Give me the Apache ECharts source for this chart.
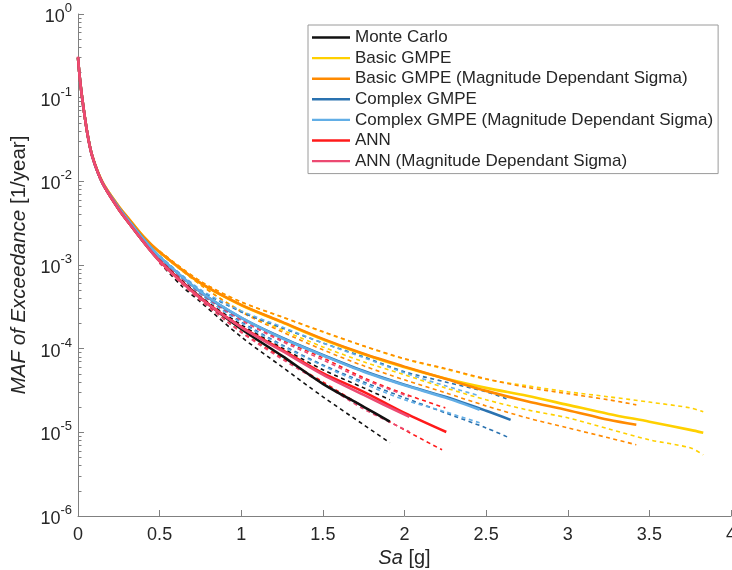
<!DOCTYPE html>
<html>
<head>
<meta charset="utf-8">
<script src="https://cdn.jsdelivr.net/npm/echarts@6/dist/echarts.min.js"></script>
<style>
  html, body { margin: 0; padding: 0; background: #fff; }
  #chart { width: 732px; height: 570px; }
</style>
</head>
<body>
<div id="chart"></div>
<script>
// curve data: [Sa (g), MAF of exceedance (1/year)]
const mcMean = [[0,0.30],[0.01,0.18],[0.027,0.094],[0.057,0.0376],[0.088,0.0197],[0.15,0.0095],[0.25,0.0046],[0.3,0.0034],[0.4,0.0019],[0.5,0.00112],[0.75,4.05e-4],[1.0,1.72e-4],[1.25,8.2e-5],[1.5,3.8e-5],[1.75,2.02e-5],[1.91,1.34e-5]]
const mcHigh = [[0.5,0.00114],[0.75,4.2e-4],[1.0,1.93e-4],[1.25,1.02e-4],[1.5,5.6e-5],[1.75,3.4e-5],[1.91,2.45e-5]]
const mcLow = [[0.5,0.00106],[0.64,5.5e-4],[0.75,3.62e-4],[1.0,1.38e-4],[1.25,6.06e-5],[1.5,2.66e-5],[1.75,1.23e-5],[1.91,7.5e-6]]

const basicMean = [[0,0.30],[0.01,0.18],[0.027,0.095],[0.057,0.038],[0.088,0.0200],[0.15,0.0098],[0.25,0.0050],[0.3,0.0038],[0.4,0.0022],[0.5,0.00142],[0.75,6.05e-4],[1.0,3.3e-4],[1.25,2.06e-4],[1.5,1.29e-4],[1.75,8.6e-5],[2.0,6.0e-5],[2.25,4.4e-5],[2.5,3.4e-5],[2.75,2.73e-5],[3.0,2.13e-5],[3.25,1.66e-5],[3.5,1.34e-5],[3.75,1.07e-5],[3.83,9.9e-6]]
const basicHigh = [[0.5,0.00146],[0.75,6.4e-4],[1.0,3.6e-4],[1.25,2.38e-4],[1.5,1.58e-4],[1.75,1.07e-4],[2.0,7.5e-5],[2.25,5.7e-5],[2.5,4.3e-5],[2.75,3.6e-5],[3.0,3.05e-5],[3.25,2.66e-5],[3.5,2.3e-5],[3.75,1.96e-5],[3.83,1.76e-5]]
const basicLow = [[0.5,0.0014],[0.75,5.8e-4],[1.0,2.83e-4],[1.25,1.68e-4],[1.5,1.05e-4],[1.75,6.96e-5],[2.0,4.87e-5],[2.25,3.4e-5],[2.5,2.45e-5],[2.75,1.86e-5],[3.0,1.49e-5],[3.25,1.1e-5],[3.5,8.14e-6],[3.75,6.53e-6],[3.83,5.39e-6]]

const basicMdsMean = [[0,0.30],[0.01,0.18],[0.027,0.095],[0.057,0.038],[0.088,0.0200],[0.15,0.0098],[0.25,0.0050],[0.3,0.0038],[0.4,0.0022],[0.5,0.00143],[0.75,6.1e-4],[1.0,3.34e-4],[1.25,2.09e-4],[1.5,1.31e-4],[1.75,8.7e-5],[2.0,6.1e-5],[2.25,4.36e-5],[2.5,3.13e-5],[2.75,2.35e-5],[3.0,1.84e-5],[3.25,1.41e-5],[3.42,1.23e-5]]
const basicMdsHigh = [[0.5,0.00146],[0.75,6.4e-4],[1.0,3.62e-4],[1.25,2.4e-4],[1.5,1.6e-4],[1.75,1.08e-4],[2.0,7.6e-5],[2.25,5.8e-5],[2.5,4.36e-5],[2.75,3.45e-5],[3.0,2.9e-5],[3.25,2.45e-5],[3.42,2.13e-5]]
const basicMdsLow = [[0.5,0.0014],[0.75,5.8e-4],[1.0,2.75e-4],[1.25,1.59e-4],[1.5,9.7e-5],[1.75,6.23e-5],[2.0,4.24e-5],[2.25,2.97e-5],[2.5,2.07e-5],[2.75,1.49e-5],[3.0,1.13e-5],[3.25,8.6e-6],[3.42,7.1e-6]]

const complexMean = [[0,0.30],[0.01,0.18],[0.027,0.094],[0.057,0.0378],[0.088,0.0198],[0.15,0.0096],[0.25,0.0048],[0.3,0.0036],[0.4,0.00205],[0.5,0.00125],[0.75,4.77e-4],[1.0,2.33e-4],[1.25,1.35e-4],[1.5,8.4e-5],[1.75,5.4e-5],[2.0,3.7e-5],[2.25,2.66e-5],[2.5,1.81e-5],[2.65,1.41e-5]]
const complexHigh = [[0.5,0.00128],[0.75,5.0e-4],[1.0,2.75e-4],[1.25,1.77e-4],[1.5,1.17e-4],[1.75,8.0e-5],[2.0,5.3e-5],[2.25,4.0e-5],[2.5,3.05e-5],[2.64,2.45e-5]]
const complexLow = [[0.5,0.00122],[0.75,4.5e-4],[1.0,2.09e-4],[1.25,1.11e-4],[1.5,6.4e-5],[1.75,4.0e-5],[2.0,2.59e-5],[2.25,1.71e-5],[2.5,1.13e-5],[2.63,8.8e-6]]

const complexMdsMean = [[0,0.30],[0.01,0.18],[0.027,0.094],[0.057,0.0378],[0.088,0.0198],[0.15,0.0096],[0.25,0.0048],[0.3,0.0036],[0.4,0.00205],[0.5,0.00126],[0.75,4.8e-4],[1.0,2.35e-4],[1.25,1.33e-4],[1.5,8.3e-5],[1.75,5.3e-5],[2.0,3.65e-5],[2.25,2.6e-5],[2.46,1.86e-5]]
const complexMdsHigh = [[0.5,0.00129],[0.75,5.1e-4],[1.0,2.83e-4],[1.25,1.82e-4],[1.5,1.17e-4],[1.75,7.8e-5],[2.0,5.14e-5],[2.25,3.6e-5],[2.46,2.73e-5]]
const complexMdsLow = [[0.5,0.00122],[0.75,4.5e-4],[1.0,2.03e-4],[1.25,1.08e-4],[1.5,6.23e-5],[1.75,3.8e-5],[2.0,2.45e-5],[2.25,1.76e-5],[2.46,1.3e-5]]

const annMean = [[0,0.30],[0.01,0.18],[0.027,0.094],[0.057,0.0376],[0.088,0.0197],[0.15,0.0095],[0.25,0.0046],[0.3,0.0034],[0.4,0.0019],[0.5,0.00112],[0.75,4.05e-4],[1.0,1.82e-4],[1.25,9.7e-5],[1.5,5.1e-5],[1.75,3.05e-5],[2.0,1.71e-5],[2.256,1.01e-5]]
const annHigh = [[0.5,0.00118],[0.75,4.64e-4],[1.0,2.21e-4],[1.25,1.27e-4],[1.5,7.77e-5],[1.75,4.48e-5],[2.0,2.88e-5],[2.25,1.96e-5]]
const annLow = [[0.5,0.00106],[0.75,3.83e-4],[1.0,1.59e-4],[1.25,7.77e-5],[1.5,4.01e-5],[1.75,2.02e-5],[2.0,1.07e-5],[2.23,6.18e-6]]

const annMdsMean = [[0,0.31],[0.01,0.18],[0.027,0.094],[0.057,0.0376],[0.088,0.0197],[0.15,0.0095],[0.25,0.0046],[0.3,0.0034],[0.4,0.0019],[0.5,0.00111],[0.75,4.0e-4],[1.0,1.8e-4],[1.25,9.4e-5],[1.5,4.9e-5],[1.75,2.8e-5],[2.03,1.53e-5]]
const annMdsHigh = [[0.5,0.00117],[0.75,4.6e-4],[1.0,2.2e-4],[1.25,1.22e-4],[1.5,7.35e-5],[1.75,4.3e-5],[2.03,2.66e-5]]
const annMdsLow = [[0.5,0.00106],[0.75,3.8e-4],[1.0,1.56e-4],[1.25,7.5e-5],[1.5,3.8e-5],[1.75,1.9e-5],[2.03,1.02e-5]]

const legendNames = ['Monte Carlo', 'Basic GMPE', 'Basic GMPE (Magnitude Dependant Sigma)', 'Complex GMPE',
  'Complex GMPE (Magnitude Dependant Sigma)', 'ANN', 'ANN (Magnitude Dependant Sigma)']
const yMajorTicks = [1e-6, 1e-5, 1e-4, 1e-3, 1e-2, 1e-1, 1]

// minor ticks at 2..9 x each decade
const yMinorTicks = []
for (let e = -6; e < 0; e++) {
  for (let m = 2; m <= 9; m++) yMinorTicks.push(m * Math.pow(10, e))
}

const groups = [
  { name: legendNames[0], color: '#111111', mean: mcMean, low: mcLow, high: mcHigh },
  { name: legendNames[1], color: '#FFD000', mean: basicMean, low: basicLow, high: basicHigh },
  { name: legendNames[2], color: '#FF8A00', mean: basicMdsMean, low: basicMdsLow, high: basicMdsHigh },
  { name: legendNames[3], color: '#2A72B0', mean: complexMean, low: complexLow, high: complexHigh },
  { name: legendNames[4], color: '#62AEE6', mean: complexMdsMean, low: complexMdsLow, high: complexMdsHigh },
  { name: legendNames[5], color: '#FF1A1A', mean: annMean, low: annLow, high: annHigh },
  { name: legendNames[6], color: '#EC4A72', mean: annMdsMean, low: annMdsLow, high: annMdsHigh }
]

const FONT = "'Liberation Sans', Arial, Helvetica, sans-serif"
const TXT = '#262626'
const AXIS = '#808080'

const series = []
groups.forEach(g => {
  series.push({
    name: g.name, type: 'line', data: g.mean, symbol: 'none', smooth: 0.3,
    lineStyle: { color: g.color, width: 2.6 }, itemStyle: { color: g.color }, z: 3
  })
  ;[g.low, g.high].forEach((d, i) => {
    series.push({
      name: g.name + (i ? ' upper' : ' lower'), type: 'line', data: d, symbol: 'none', smooth: 0.3,
      lineStyle: { color: g.color, width: 1.6, type: [4, 3.5] }, z: 2
    })
  })
})

const chart = echarts.init(document.getElementById('chart'), null, { renderer: 'canvas' })
chart.setOption({
  animation: false,
  backgroundColor: '#fff',
  textStyle: { fontFamily: FONT },
  grid: { left: 78, right: 1, top: 14, bottom: 54, containLabel: false, outerBoundsMode: 'none' },
  legend: {
    data: legendNames,
    orient: 'vertical',
    left: 308, top: 25,
    padding: [4, 5, 4, 4],
    itemWidth: 38, itemHeight: 14, itemGap: 3.6,
    borderColor: '#9a9a9a', borderWidth: 1, backgroundColor: '#fff',
    textStyle: { fontSize: 17, color: TXT, fontFamily: FONT },
    icon: 'path://M0,6 L38,6 L38,8.4 L0,8.4 Z'
  },
  xAxis: {
    type: 'value', min: 0, max: 4, interval: 0.5,
    name: '{i|Sa} [g]', nameLocation: 'middle', nameGap: 32,
    nameTextStyle: { fontSize: 20, color: TXT, rich: { i: { fontSize: 20, fontStyle: 'italic', color: TXT } } },
    axisLine: { lineStyle: { color: AXIS, width: 1 } },
    axisTick: { inside: true, length: 6, lineStyle: { color: AXIS } },
    axisLabel: { fontSize: 18, color: TXT, margin: 10 },
    splitLine: { show: false }
  },
  yAxis: [{
    type: 'log', logBase: 10, min: 1e-6, max: 1,
    name: '{i|MAF of Exceedance} [1/year]', nameLocation: 'middle', nameRotate: 90, nameGap: 35,
    nameTextStyle: { fontSize: 20.5, color: TXT, rich: { i: { fontSize: 20.5, fontStyle: 'italic', color: TXT } } },
    axisLine: { show: true, lineStyle: { color: AXIS, width: 1 } },
    axisTick: { show: true, inside: true, length: 6, lineStyle: { color: AXIS }, customValues: yMajorTicks },
    axisLabel: {
      customValues: yMajorTicks, margin: 6,
      formatter: v => '{b|10}{s|' + Math.round(Math.log10(v)) + '}',
      rich: {
        b: { fontSize: 18, color: TXT, verticalAlign: 'bottom' },
        s: { fontSize: 13, color: TXT, verticalAlign: 'bottom', padding: [0, 0, 11, 0] }
      }
    },
    splitLine: { show: false }
  }, {
    type: 'log', logBase: 10, min: 1e-6, max: 1, position: 'left',
    axisLine: { show: false },
    axisTick: { show: true, inside: true, length: 3.5, lineStyle: { color: AXIS }, customValues: yMinorTicks },
    axisLabel: { show: false },
    splitLine: { show: false }
  }],
  series: series
})
</script>
</body>
</html>
